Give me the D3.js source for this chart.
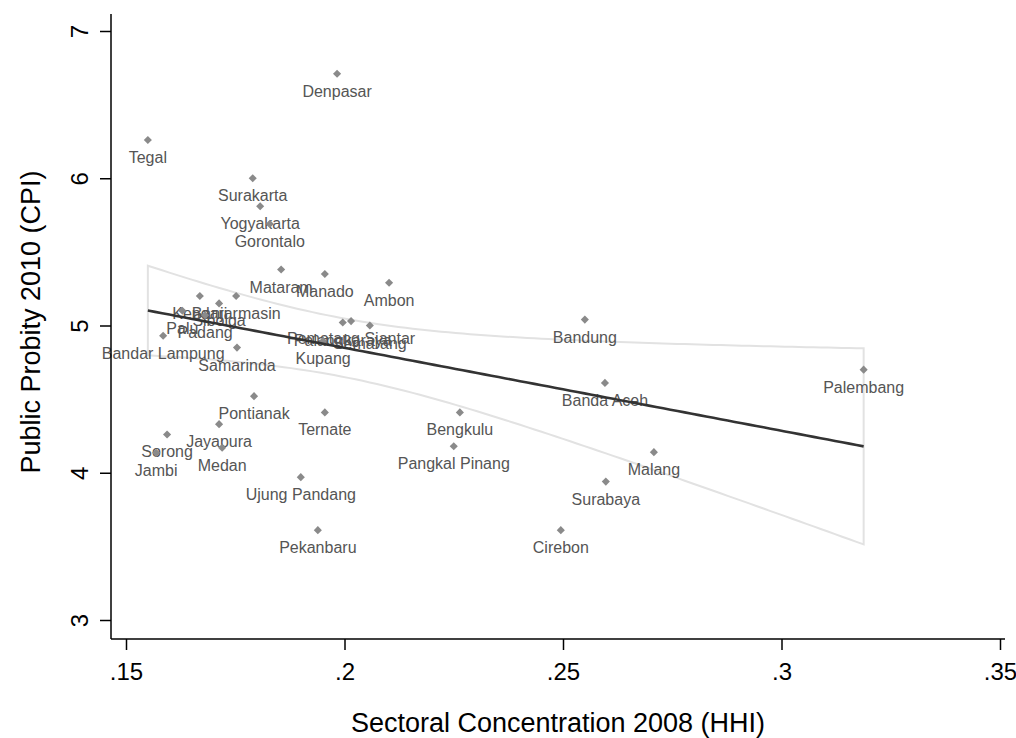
<!DOCTYPE html>
<html>
<head>
<meta charset="utf-8">
<script src="https://cdn.jsdelivr.net/npm/d3@7"></script>
<style>
  body { margin: 0; background: #fff; }
  svg { display: block; font-family: "Liberation Sans", Arial, sans-serif; }
</style>
</head>
<body>
<div id="chart"></div>
<script>
// cities, HHI 2008 (x) and CPI 2010 (y)
var cities = ["Denpasar","Tegal","Surakarta","Yogyakarta","Gorontalo","Mataram","Manado","Ambon",
  "Bandung","Kendari","Banjarmasin","Sibolga","Palu","Padang","Bandar Lampung","Samarinda",
  "Palangkaraya","Pematang Siantar","Semarang","Kupang","Pontianak","Ternate","Jayapura","Medan",
  "Sorong","Jambi","Ujung Pandang","Pekanbaru","Bengkulu","Pangkal Pinang","Banda Aceh","Malang",
  "Surabaya","Cirebon","Palembang"];
var hhi = [.1983,.1550,.1790,.1807,.1829,.1855,.1955,.2102,
  .2550,.1669,.1752,.1713,.1629,.1681,.1585,.1754,
  .1996,.2015,.2058,.1951,.1793,.1955,.1713,.1720,
  .1594,.1569,.1900,.1939,.2264,.2250,.2596,.2708,
  .2598,.2495,.3188];
var cpi = [6.71,6.26,6.00,5.81,5.69,5.38,5.35,5.29,
  5.04,5.20,5.20,5.15,5.10,5.07,4.93,4.85,
  5.02,5.03,5.00,4.895,4.52,4.41,4.33,4.17,
  4.26,4.135,3.97,3.61,4.41,4.18,4.61,4.14,
  3.94,3.61,4.70];
var xTicks = [.15,.2,.25,.3,.35];
var yTicks = [3,4,5,6,7];

var W = 1016, H = 738;
var svg = d3.select("#chart").append("svg").attr("width", W).attr("height", H);

var x = d3.scaleLinear().domain([.15,.35]).range([126,1000]);
var y = d3.scaleLinear().domain([3,7]).range([620,31]);
var axX = 111, axY = 639;

// linear fit with confidence band (like lfitci)
var n = hhi.length;
var mx = d3.mean(hhi), my = d3.mean(cpi);
var sxx = d3.sum(hhi, function(v){ return (v-mx)*(v-mx); });
var sxy = d3.sum(hhi, function(v,i){ return (v-mx)*(cpi[i]-my); });
var b = sxy/sxx, a = my - b*mx;
var sse = d3.sum(hhi, function(v,i){ var r = cpi[i]-(a+b*v); return r*r; });
var s = Math.sqrt(sse/(n-2));
var t = 1.6924; // t(.95, 33)
var xmin = d3.min(hhi), xmax = d3.max(hhi);
var grid = d3.range(0, 101).map(function(k){ return xmin + (xmax-xmin)*k/100; });
var fit = grid.map(function(v){
  var f = a + b*v, se = s*Math.sqrt(1/n + (v-mx)*(v-mx)/sxx);
  return {x: v, f: f, lo: f - t*se, hi: f + t*se};
});

var band = fit.map(function(d){ return [x(d.x), y(d.hi)]; })
  .concat(fit.slice().reverse().map(function(d){ return [x(d.x), y(d.lo)]; }));
svg.append("path")
  .attr("d", d3.line()(band) + "Z")
  .attr("fill", "#fff")
  .attr("stroke", "#e2e2e2")
  .attr("stroke-width", 2);

// markers and labels
var pts = svg.append("g").selectAll("g").data(cities).enter().append("g")
  .attr("transform", function(d,i){ return "translate(" + x(hhi[i]) + "," + y(cpi[i]) + ")"; });
pts.append("path")
  .attr("d", d3.symbol().type(d3.symbolDiamond2).size(42))
  .attr("fill", "#8a8a8a");
pts.append("text")
  .attr("y", 23)
  .attr("text-anchor", "middle")
  .attr("fill", "#555")
  .style("font-size", "16px")
  .text(function(d){ return d; });

svg.append("path")
  .datum(fit)
  .attr("d", d3.line().x(function(d){ return x(d.x); }).y(function(d){ return y(d.f); }))
  .attr("fill", "none")
  .attr("stroke", "#333")
  .attr("stroke-width", 2.6);

// axes
var gy = svg.append("g").attr("transform", "translate(" + axX + ",0)")
  .call(d3.axisLeft(y).tickValues(yTicks).tickSize(11).tickSizeOuter(0).tickFormat(d3.format("d")));
gy.select(".domain").remove();
gy.selectAll("line").attr("stroke", "#000").attr("stroke-width", 1.5);
gy.selectAll("text")
  .attr("x", 0).attr("dy", 0)
  .attr("transform", "translate(-23,0) rotate(-90)")
  .attr("text-anchor", "middle")
  .attr("fill", "#000")
  .style("font-size", "24px")
  .style("font-family", "Liberation Sans, Arial, sans-serif");
svg.append("line").attr("x1", axX).attr("x2", axX).attr("y1", 14).attr("y2", axY)
  .attr("stroke", "#000").attr("stroke-width", 1.5);

var gx = svg.append("g").attr("transform", "translate(0," + axY + ")")
  .call(d3.axisBottom(x).tickValues(xTicks).tickSize(11).tickSizeOuter(0)
    .tickFormat(function(d){ return d3.format(".2~f")(d).replace(/^0/, ""); }));
gx.select(".domain").remove();
gx.selectAll("line").attr("stroke", "#000").attr("stroke-width", 1.5);
gx.selectAll("text")
  .attr("y", 41).attr("dy", 0)
  .attr("fill", "#000")
  .style("font-size", "24px")
  .style("font-family", "Liberation Sans, Arial, sans-serif");
svg.append("line").attr("x1", axX).attr("x2", 1005).attr("y1", axY).attr("y2", axY)
  .attr("stroke", "#000").attr("stroke-width", 1.5);

svg.append("text")
  .attr("x", 558).attr("y", 732)
  .attr("text-anchor", "middle")
  .style("font-size", "27px")
  .text("Sectoral Concentration 2008 (HHI)");
svg.append("text")
  .attr("transform", "translate(40,322) rotate(-90)")
  .attr("text-anchor", "middle")
  .style("font-size", "27px")
  .text("Public Probity 2010 (CPI)");
</script>
</body>
</html>
